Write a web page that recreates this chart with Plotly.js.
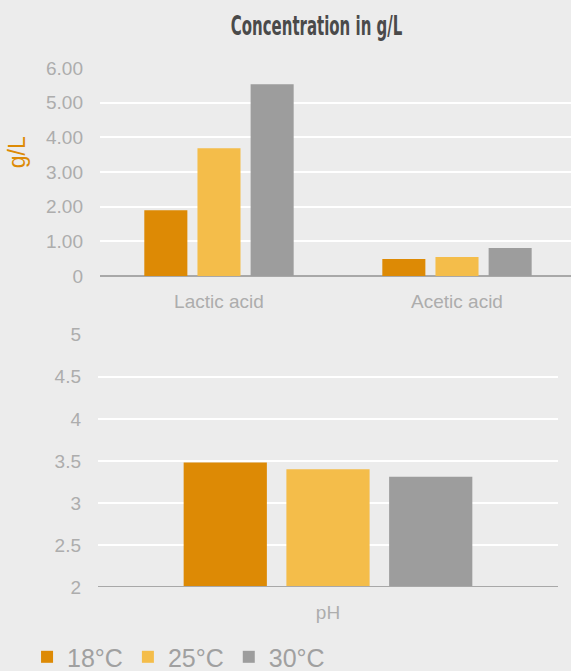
<!DOCTYPE html>
<html>
<head>
<meta charset="utf-8">
<script src="https://cdn.plot.ly/plotly-3.0.1.min.js"></script>
<style>html,body{margin:0;padding:0;background:#ececec;}</style>
</head>
<body>
<div id="chart" style="width:571px;height:671px;"></div>
<script>
var acidCategories = ["Lactic acid", "Acetic acid"];
var phCategories = ["pH"];
var seriesNames = ["18°C", "25°C", "30°C"];
var acid18 = [1.90, 0.49];
var acid25 = [3.69, 0.55];
var acid30 = [5.53, 0.81];
var ph18 = [3.48];
var ph25 = [3.40];
var ph30 = [3.31];
var acidTickVals = [0, 1, 2, 3, 4, 5, 6];
var acidTickText = ["0", "1.00", "2.00", "3.00", "4.00", "5.00", "6.00"];
var phTickVals = [2, 2.5, 3, 3.5, 4, 4.5, 5];
var phTickText = ["2", "2.5", "3", "3.5", "4", "4.5", "5"];

var colors = ["#dd8a05", "#f4bd4a", "#9d9d9d"];
var acidSeries = [acid18, acid25, acid30];
var phSeries = [ph18, ph25, ph30];

var traces = [];
for (var i = 0; i < 3; i++) {
  traces.push({type: "bar", x: acidCategories, y: acidSeries[i], name: seriesNames[i],
    marker: {color: colors[i]}, xaxis: "x", yaxis: "y", legendgroup: "g" + i, showlegend: true, hoverinfo: "y"});
}
for (var j = 0; j < 3; j++) {
  traces.push({type: "bar", x: phCategories, y: phSeries[j], name: seriesNames[j],
    marker: {color: colors[j]}, xaxis: "x2", yaxis: "y2", legendgroup: "g" + j, showlegend: false, hoverinfo: "y"});
}

var tickFont = {family: "'Liberation Sans', Arial, sans-serif", size: 19, color: "#adadad"};
var titleCenterX = 316.5;
var titleSqueeze = 0.555;

var layout = {
  width: 571, height: 671,
  paper_bgcolor: "#ececec", plot_bgcolor: "#ececec",
  margin: {l: 98, r: 0, t: 68, b: 84, autoexpand: false},
  barmode: "group", bargap: 0.33, bargroupgap: 0.19,
  title: {text: "Concentration in g/L", xref: "container", x: titleCenterX / 571, xanchor: "center",
    yref: "container", y: 0.962, yanchor: "middle",
    font: {family: "'DejaVu Sans', sans-serif", size: 27, color: "#4a4a4a", weight: 700}},
  xaxis: {domain: [0.0042, 1], anchor: "y", range: [-0.5, 1.479], tickfont: tickFont,
    showgrid: false, showline: false, ticks: "", zeroline: false, ticklabelstandoff: 12, fixedrange: true},
  yaxis: {domain: [0.599, 1], anchor: "x", range: [0, 6], tickvals: acidTickVals, ticktext: acidTickText,
    tickfont: tickFont, gridcolor: "#ffffff", gridwidth: 2, showline: false,
    zeroline: true, zerolinecolor: "#a8a8a8", zerolinewidth: 2, ticklabelstandoff: 16,
    fixedrange: true},
  xaxis2: {domain: [0, 0.9725], anchor: "y2", range: [-0.5, 0.5], tickfont: tickFont,
    showgrid: false, showline: false, ticks: "", zeroline: false, ticklabelstandoff: 12, fixedrange: true},
  yaxis2: {domain: [0, 0.486], anchor: "x2", range: [2, 5], tickvals: phTickVals, ticktext: phTickText,
    tickfont: tickFont, gridcolor: "#ffffff", gridwidth: 2, showline: false, zeroline: false,
    ticklabelstandoff: 16, fixedrange: true},
  annotations: [
    {text: "g/L", xref: "paper", yref: "paper", x: -0.171, y: 0.838, xanchor: "center", yanchor: "middle",
     textangle: -90, showarrow: false, font: {family: "'Liberation Sans', Arial, sans-serif", size: 23, color: "#dd8a05"}}
  ],
  shapes: [
    {type: "line", xref: "x2 domain", yref: "y2", x0: 0, x1: 1, y0: 2, y1: 2, line: {color: "#a8a8a8", width: 2}}
  ],
  legend: {orientation: "h", x: -0.15, xanchor: "left", y: -0.135, yanchor: "middle",
    font: {family: "'Liberation Sans', Arial, sans-serif", size: 25, color: "#a0a0a0"},
    itemwidth: 30, tracegroupgap: 0, bgcolor: "rgba(0,0,0,0)"},
  showlegend: true
};

Plotly.newPlot("chart", traces, layout, {displayModeBar: false, staticPlot: true}).then(function (gd) {
  var t = gd.querySelector(".gtitle");
  if (t) {
    var prev = t.getAttribute("transform") || "";
    t.setAttribute("transform", prev + " translate(" + titleCenterX + ",0) scale(" + titleSqueeze + ",1) translate(" + (-titleCenterX) + ",0)");
  }
});
</script>
</body>
</html>
